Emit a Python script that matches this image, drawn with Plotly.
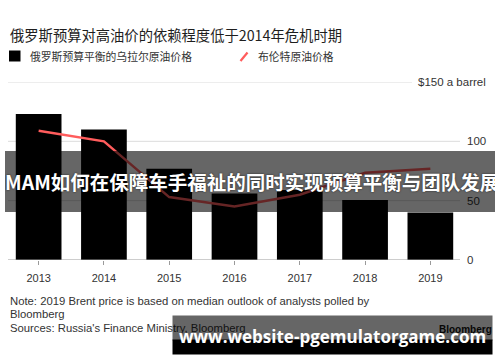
import plotly.graph_objects as go

# ---------------- data ----------------
years = ["2013", "2014", "2015", "2016", "2017", "2018", "2019"]
urals_breakeven = [123, 110, 77, 56, 59, 50.5, 40]
brent_price = [109, 100, 53, 45, 55, 73.5, 77]
ytick_vals = [0, 50, 100, 150]
ytick_text = ["0", "50", "100", "$150 a barrel"]
title_text = "俄罗斯预算对高油价的依赖程度低于2014年危机时期"
bar_name = "俄罗斯预算平衡的乌拉尔原油价格"
line_name = "布伦特原油价格"
note_lines = [
    "Note: 2019 Brent price is based on median outlook of analysts polled by",
    "Bloomberg",
    "Sources: Russia's Finance Ministry, Bloomberg",
]
band_text = "MAM如何在保障车手福祉的同时实现预算平衡与团队发展"
watermark_text = "www.website-pgemulatorgame.com"

# ---------------- layout geometry ----------------
W, H = 500, 362
ML, MR, MT, MB = 6, 37, 82, 102
PW = W - ML - MR
PH = H - MT - MB


def px_x(p):
    return (p - ML) / PW


def px_y(p):
    return (H - MB - p) / PH


LAT = "Liberation Sans, Arial, sans-serif"
CJK = "Noto Sans CJK SC, sans-serif"
RED = "#ff5c5c"

fig = go.Figure()
fig.add_trace(go.Bar(x=years, y=urals_breakeven, name=bar_name,
                     marker=dict(color="#000000", line=dict(width=0))))
fig.add_trace(go.Scatter(x=years, y=brent_price, name=line_name, mode="lines",
                         line=dict(color=RED, width=2.5)))

shapes = []
# gridlines (stop short of labels)
for v, t in zip(ytick_vals, ytick_text):
    if v == 0:
        continue
    x1 = px_x(412) if t.startswith("$") else px_x(460)
    shapes.append(dict(type="line", xref="paper", yref="y", x0=px_x(8), x1=x1,
                       y0=v, y1=v, line=dict(color="#dcdcdc", width=1), layer="below"))
# baseline
shapes.append(dict(type="line", xref="paper", yref="y", x0=px_x(8), x1=px_x(460),
                   y0=0, y1=0, line=dict(color="#9a9a9a", width=1), layer="above"))
# legend symbols
shapes.append(dict(type="rect", xref="paper", yref="paper", x0=px_x(9), x1=px_x(20.5),
                   y0=px_y(61.5), y1=px_y(50.5), fillcolor="#000", line=dict(width=0)))
shapes.append(dict(type="line", xref="paper", yref="paper", x0=px_x(240.5), x1=px_x(247.5),
                   y0=px_y(61), y1=px_y(52.5), line=dict(color=RED, width=2.2)))

annotations = []
# title
annotations.append(dict(text=title_text, xref="paper", yref="paper", x=px_x(8), y=px_y(35),
                        xanchor="left", yanchor="middle", showarrow=False,
                        font=dict(family=CJK, size=14.3, color="#1e1e1e")))
# legend texts
annotations.append(dict(text=bar_name, xref="paper", yref="paper", x=px_x(27.5), y=px_y(56),
                        xanchor="left", yanchor="middle", showarrow=False,
                        font=dict(family=CJK, size=10.8, color="#333")))
annotations.append(dict(text=line_name, xref="paper", yref="paper", x=px_x(255.5), y=px_y(56),
                        xanchor="left", yanchor="middle", showarrow=False,
                        font=dict(family=CJK, size=10.8, color="#333")))
# y tick labels
for v, t in zip(ytick_vals, ytick_text):
    if t.startswith("$"):
        annotations.append(dict(text=t, xref="paper", yref="y", x=px_x(487.5), y=v,
                                xanchor="right", yanchor="middle", showarrow=False,
                                font=dict(family=LAT, size=11.5, color="#333")))
    else:
        annotations.append(dict(text=t, xref="paper", yref="y", x=px_x(465.5), y=v,
                                xanchor="left", yanchor="middle", showarrow=False,
                                font=dict(family=LAT, size=11.5, color="#333")))
# notes
for t, yy in zip(note_lines, [300.5, 314, 328]):
    annotations.append(dict(text=t, xref="paper", yref="paper", x=px_x(8), y=px_y(yy),
                            xanchor="left", yanchor="middle", showarrow=False,
                            font=dict(family=LAT, size=11.3, color="#333")))
annotations.append(dict(text="<b>Bloomberg</b>", xref="paper", yref="paper", x=px_x(494), y=px_y(329),
                        xanchor="right", yanchor="middle", showarrow=False,
                        font=dict(family=LAT, size=10, color="#111")))
# overlay band with headline
annotations.append(dict(text=band_text, xref="paper", yref="paper",
                        x=px_x(5), y=px_y(151), xanchor="left", yanchor="top",
                        width=490, height=61, align="left", valign="middle",
                        bgcolor="rgba(0,0,0,0.6)", borderpad=0, borderwidth=0,
                        showarrow=False,
                        font=dict(family=CJK, size=19.5, color="#ffffff", weight="bold",
                                  shadow="0px 0px 2px rgba(0,0,0,0.7)")))
# watermark boxes
annotations.append(dict(text=" ", xref="paper", yref="paper",
                        x=px_x(172), y=px_y(315), xanchor="left", yanchor="top",
                        width=319, height=24, bgcolor="rgba(0,0,0,0.6)", borderpad=0,
                        showarrow=False, font=dict(size=1)))
annotations.append(dict(text=" ", xref="paper", yref="paper",
                        x=px_x(172), y=px_y(339), xanchor="left", yanchor="top",
                        width=319, height=14, bgcolor="#000000", borderpad=0,
                        showarrow=False, font=dict(size=1)))
annotations.append(dict(text=watermark_text, xref="paper", yref="paper",
                        x=px_x(332), y=px_y(336), xanchor="center", yanchor="middle",
                        showarrow=False,
                        font=dict(family="Open Sans, Noto Sans, sans-serif", size=17,
                                  color="#ffffff", weight="bold")))

fig.update_layout(
    width=W, height=H,
    margin=dict(l=ML, r=MR, t=MT, b=MB, pad=0),
    paper_bgcolor="#ffffff", plot_bgcolor="#ffffff",
    showlegend=False,
    bargap=0.3,
    shapes=shapes,
    annotations=annotations,
    xaxis=dict(type="category", showgrid=False, zeroline=False, showline=False,
               ticks="outside", ticklen=4, tickcolor="#9a9a9a", tickwidth=1,
               tickfont=dict(family=LAT, size=11, color="#333"), ticklabelstandoff=4),
    yaxis=dict(range=[0, 150], showgrid=False, zeroline=False, showticklabels=False,
               showline=False, ticks=""),
)

fig.write_html("out.html", config={"displayModeBar": False},
               post_script="document.body.style.margin='0px';document.body.style.overflow='hidden';")
